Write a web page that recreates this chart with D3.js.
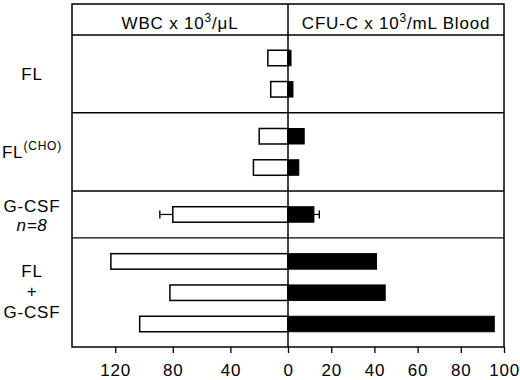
<!DOCTYPE html>
<meta charset="utf-8">
<body style="margin:0;background:#fff">
<div id="chart"></div>
<script src="https://cdn.jsdelivr.net/npm/d3@7"></script>
<script>
// data
var groups = ["FL", "FL(CHO)", "G-CSF", "FL+G-CSF"];
var rowGroup = [0, 0, 1, 1, 2, 3, 3, 3];
var wbc = [14, 12, 20, 24, 80, 123, 82, 103];
var cfu = [1.4, 2.3, 7.5, 5, 12, 41, 45, 95.5];
var wbcErr = [0, 0, 0, 0, 9, 0, 0, 0];
var cfuErr = [0, 0, 0, 0, 2.5, 0, 0, 0];
var wbcTicks = [120, 80, 40, 0];
var cfuTicks = [20, 40, 60, 80, 100];

var W = 520, H = 380;
var fLeft = 72, fRight = 504, fTop = 4, headBottom = 35, fBottom = 347, mid = 288;
var font = "'Liberation Sans', Arial, sans-serif";

var svg = d3.select("#chart").append("svg")
    .attr("width", W).attr("height", H)
    .style("font-family", font)
    .style("letter-spacing", "0.8px");

var xL = d3.scaleLinear().domain([0, 150]).range([mid, fLeft]);
var xR = d3.scaleLinear().domain([0, 100]).range([mid, fRight]);

// slot index with half-slot gap between groups
var slot = rowGroup.map(function(g, i) { return i + 0.5 * g; });
var y = d3.scaleLinear().domain([0, 8.5]).range([58, 324]);
var bh = 15.5;

// frame
svg.append("rect").attr("x", fLeft).attr("y", fTop)
    .attr("width", fRight - fLeft).attr("height", fBottom - fTop)
    .attr("fill", "none").attr("stroke", "#000").attr("stroke-width", 1.5);
svg.append("line").attr("x1", fLeft).attr("x2", fRight)
    .attr("y1", headBottom).attr("y2", headBottom)
    .attr("stroke", "#000").attr("stroke-width", 1.5);

// group dividers
for (var g = 0; g < groups.length - 1; g++) {
  var lastS = d3.max(slot.filter(function(s, i) { return rowGroup[i] === g; }));
  var firstS = d3.min(slot.filter(function(s, i) { return rowGroup[i] === g + 1; }));
  var yy = y((lastS + firstS) / 2);
  svg.append("line").attr("x1", fLeft).attr("x2", fRight)
      .attr("y1", yy).attr("y2", yy)
      .attr("stroke", "#000").attr("stroke-width", 1.3);
}

// bars
svg.selectAll(".wbc").data(wbc).enter().append("rect")
    .attr("x", function(d) { return xL(d); })
    .attr("width", function(d) { return xL(0) - xL(d); })
    .attr("y", function(d, i) { return y(slot[i]) - bh / 2; })
    .attr("height", bh)
    .attr("fill", "#fff").attr("stroke", "#000").attr("stroke-width", 1.5);

svg.selectAll(".cfu").data(cfu).enter().append("rect")
    .attr("x", xR(0))
    .attr("width", function(d) { return xR(d) - xR(0); })
    .attr("y", function(d, i) { return y(slot[i]) - bh / 2; })
    .attr("height", bh)
    .attr("fill", "#000").attr("stroke", "#000").attr("stroke-width", 1);

// error bars
wbc.forEach(function(d, i) {
  if (!wbcErr[i]) return;
  var cy = y(slot[i]), x1 = xL(d), x2 = xL(d + wbcErr[i]);
  svg.append("line").attr("x1", x1).attr("x2", x2).attr("y1", cy).attr("y2", cy)
      .attr("stroke", "#000").attr("stroke-width", 1.2);
  svg.append("line").attr("x1", x2).attr("x2", x2).attr("y1", cy - 4).attr("y2", cy + 4)
      .attr("stroke", "#000").attr("stroke-width", 1.4);
});
cfu.forEach(function(d, i) {
  if (!cfuErr[i]) return;
  var cy = y(slot[i]), x1 = xR(d), x2 = xR(d + cfuErr[i]);
  svg.append("line").attr("x1", x1).attr("x2", x2).attr("y1", cy).attr("y2", cy)
      .attr("stroke", "#000").attr("stroke-width", 1.2);
  svg.append("line").attr("x1", x2).attr("x2", x2).attr("y1", cy - 4).attr("y2", cy + 4)
      .attr("stroke", "#000").attr("stroke-width", 1.4);
});

// centre line
svg.append("line").attr("x1", mid).attr("x2", mid).attr("y1", fTop).attr("y2", fBottom)
    .attr("stroke", "#000").attr("stroke-width", 1.5);

// axes
var axL = svg.append("g").attr("transform", "translate(0," + fBottom + ")")
    .call(d3.axisBottom(xL).tickValues(wbcTicks).tickSize(6).tickPadding(11));
var axR = svg.append("g").attr("transform", "translate(0," + fBottom + ")")
    .call(d3.axisBottom(xR).tickValues(cfuTicks).tickSize(6).tickPadding(11));
[axL, axR].forEach(function(a) {
  a.select(".domain").remove();
  a.selectAll("line").attr("stroke-width", 1.3);
  a.selectAll("text").attr("font-size", 17).attr("font-family", font).attr("fill", "#000");
});

// header
var h1 = svg.append("text").attr("x", (fLeft + mid) / 2).attr("y", 29)
    .attr("text-anchor", "middle").attr("font-size", 17);
h1.append("tspan").text("WBC x 10");
h1.append("tspan").attr("dy", -7).attr("font-size", 12).text("3");
h1.append("tspan").attr("dy", 7).text("/\u03bcL");

var h2 = svg.append("text").attr("x", (mid + fRight) / 2).attr("y", 29)
    .attr("text-anchor", "middle").attr("font-size", 17);
h2.append("tspan").text("CFU-C x 10");
h2.append("tspan").attr("dy", -7).attr("font-size", 12).text("3");
h2.append("tspan").attr("dy", 7).text("/mL Blood");

// group labels
function groupCenter(g) {
  var s = slot.filter(function(v, i) { return rowGroup[i] === g; });
  return y(d3.mean(s));
}
var lx = 32;
svg.append("text").attr("x", lx).attr("y", groupCenter(0) + 6)
    .attr("text-anchor", "middle").attr("font-size", 17).text("FL");

var t1 = svg.append("text").attr("x", lx).attr("y", groupCenter(1) + 6)
    .attr("text-anchor", "middle").attr("font-size", 17);
t1.append("tspan").text("FL");
t1.append("tspan").attr("dy", -8).attr("font-size", 12).text("(CHO)");

var t2 = svg.append("text").attr("text-anchor", "middle").attr("font-size", 17);
t2.append("tspan").attr("x", lx).attr("y", groupCenter(2) - 2).text("G-CSF");
t2.append("tspan").attr("x", lx).attr("dy", 19).attr("font-style", "italic").text("n=8");

var t3 = svg.append("text").attr("text-anchor", "middle").attr("font-size", 17);
t3.append("tspan").attr("x", lx).attr("y", groupCenter(3) - 16).text("FL");
t3.append("tspan").attr("x", lx).attr("dy", 20.5).text("+");
t3.append("tspan").attr("x", lx).attr("dy", 20.5).text("G-CSF");
</script>
</body>
